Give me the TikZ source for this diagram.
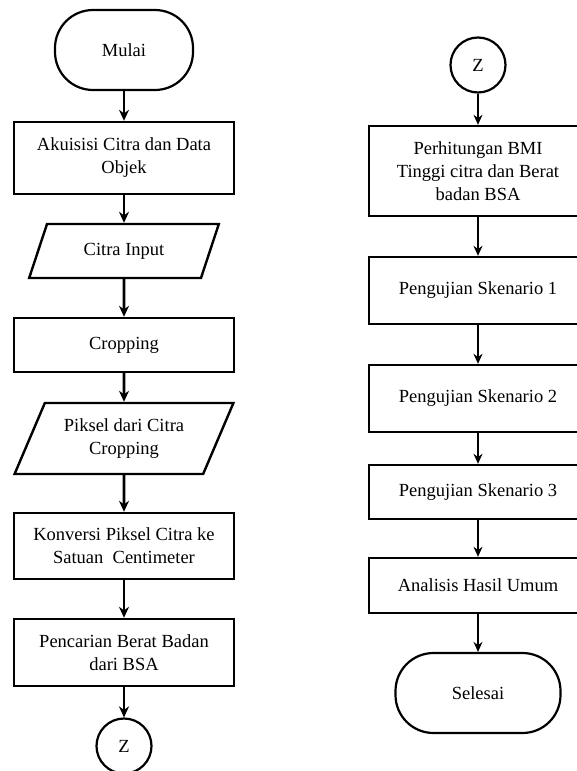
\documentclass[tikz,border=0pt]{standalone}
\usepackage{fontspec}
\setmainfont{Liberation Serif}
\usetikzlibrary{shapes.geometric, arrows.meta, positioning}

\begin{document}
\begin{tikzpicture}[x=1pt, y=-1pt,
	font=\fontsize{18.5}{23}\selectfont,
	proses/.style={draw, line width=2.4pt, rectangle, align=center, inner sep=0pt},
	dataio/.style={draw, line width=2.4pt, trapezium, trapezium left angle=60, trapezium right angle=120,
		trapezium stretches=true, align=center, inner sep=0pt},
	terminal/.style={draw, line width=2.2pt, rectangle, rounded corners=38pt, minimum height=80pt},
	konektor/.style={draw, line width=2.2pt, circle, minimum size=55pt, inner sep=0pt},
	panah/.style={-{Stealth[length=11pt, width=10pt]}, line width=2.6pt},
	panahtipis/.style={-{Stealth[length=10pt, width=9pt]}, line width=1.3pt}]
	\def\kiri{124}
	\def\kanan{478}
	\useasboundingbox (0,0) rectangle (577,771);
	\clip (0,0) rectangle (577,771);

	% --- kolom kiri ---
	\node[terminal, minimum width=138pt] (mulai) at (\kiri,50) {Mulai};
	\node[proses, minimum width=220pt, minimum height=72pt] (akuisisi) at (\kiri,158) {Akuisisi Citra dan Data\\Objek};
	\node[dataio, minimum width=191pt, minimum height=54pt] (input) at (\kiri,251) {Citra Input};
	\node[proses, minimum width=220pt, minimum height=54pt] (crop) at (\kiri,345) {Cropping};
	\node[dataio, minimum width=219pt, minimum height=71pt] (piksel) at (\kiri,438.5) {Piksel dari Citra\\Cropping};
	\node[proses, minimum width=220pt, minimum height=66pt] (konversi) at (\kiri,546) {Konversi Piksel Citra ke\\Satuan~ Centimeter};
	\node[proses, minimum width=220pt, minimum height=67pt] (cari) at (\kiri,652.5) {Pencarian Berat Badan\\dari BSA};
	\node[konektor] (zkiri) at (\kiri,746) {Z};

	\draw[panah] (mulai) -- (akuisisi);
	\draw[panah] (akuisisi) -- (input);
	\draw[panah] (input) -- (crop);
	\draw[panah] (crop) -- (piksel);
	\draw[panah] (piksel) -- (konversi);
	\draw[panah] (konversi) -- (cari);
	\draw[panah] (cari) -- (zkiri);

	% --- kolom kanan ---
	\node[konektor] (zkanan) at (\kanan,65) {Z};
	\node[proses, minimum width=218pt, minimum height=90pt] (bmi) at (\kanan,171) {Perhitungan BMI\\Tinggi citra dan Berat\\badan BSA};
	\node[proses, minimum width=218pt, minimum height=67pt] (sk1) at (\kanan,290.5) {Pengujian Skenario 1};
	\node[proses, minimum width=218pt, minimum height=67pt] (sk2) at (\kanan,398.5) {Pengujian Skenario 2};
	\node[proses, minimum width=218pt, minimum height=54pt] (sk3) at (\kanan,492) {Pengujian Skenario 3};
	\node[proses, minimum width=218pt, minimum height=55pt] (analisis) at (\kanan,585.5) {Analisis Hasil Umum};
	\node[terminal, minimum width=165pt] (selesai) at (\kanan,693) {Selesai};

	\draw[panahtipis] (zkanan) -- (bmi);
	\draw[panahtipis] (bmi) -- (sk1);
	\draw[panahtipis] (sk1) -- (sk2);
	\draw[panahtipis] (sk2) -- (sk3);
	\draw[panahtipis] (sk3) -- (analisis);
	\draw[panahtipis] (analisis) -- (selesai);
\end{tikzpicture}
\end{document}
